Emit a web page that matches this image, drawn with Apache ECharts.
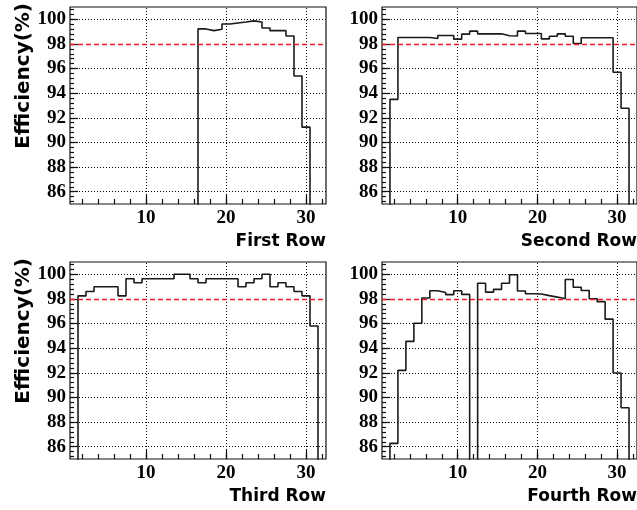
<!DOCTYPE html>
<html>
<head>
<meta charset="utf-8">
<script src="https://cdn.jsdelivr.net/npm/echarts@6/dist/echarts.min.js"></script>
<style>
  html, body { margin: 0; padding: 0; background: #fff; }
  #chart { width: 637px; height: 510px; }
</style>
</head>
<body>
<div id="chart"></div>
<script>
// Strip number (bin centre) and measured efficiency per strip, in percent.
// A value of 0 means the strip has no entry.
const bins = [1, 2, 3, 4, 5, 6, 7, 8, 9, 10, 11, 12, 13, 14, 15, 16,
              17, 18, 19, 20, 21, 22, 23, 24, 25, 26, 27, 28, 29, 30, 31, 32];

const firstRow = [0, 0, 0, 0, 0, 0, 0, 0, 0, 0, 0, 0, 0, 0, 0, 0,
                  99.22, 99.08, 99.19, 99.62, 99.70, 99.78, 99.87, 99.78,
                  99.30, 99.08, 99.08, 98.65, 95.39, 91.24, 0, 0];

const secondRow = [0, 93.50, 98.52, 98.52, 98.52, 98.52, 98.44, 98.69,
                   98.69, 98.39, 98.80, 99.04, 98.82, 98.82, 98.82, 98.66,
                   98.64, 99.04, 98.85, 98.85, 98.41, 98.63, 98.82, 98.63,
                   98.03, 98.50, 98.50, 98.50, 98.50, 95.70, 92.78, 0];

const thirdRow = [0, 98.25, 98.60, 98.99, 98.99, 98.99, 98.25, 99.64,
                  99.31, 99.64, 99.64, 99.64, 99.64, 100.0, 100.0, 99.64,
                  99.31, 99.64, 99.64, 99.64, 99.64, 98.99, 99.31, 99.64,
                  100.0, 98.99, 99.31, 98.99, 98.60, 98.25, 95.80, 0];

const fourthRow = [0, 86.27, 92.20, 94.55, 96.03, 98.08, 98.66, 98.53,
                   98.35, 98.66, 98.37, 0, 99.28, 98.55, 98.78, 99.28,
                   99.97, 98.64, 98.42, 98.40, 98.27, 98.15, 98.02, 99.58,
                   98.95, 98.68, 98.02, 97.78, 96.36, 91.99, 89.16, 0];

const rowValues = [firstRow, secondRow, thirdRow, fourthRow];
const rowNames = ['First Row', 'Second Row', 'Third Row', 'Fourth Row'];

const xTickLabels = [10, 20, 30];
const yTickLabels = [86, 88, 90, 92, 94, 96, 98, 100];
const threshold = 98;
const yAxisTitle = 'Efficiency(%)';

// Pad layout: frame rectangle of each pad.
const pads = [
  { left: 70,  top: 7,   width: 256, height: 197 },
  { left: 382, top: 7,   width: 255, height: 197 },
  { left: 70,  top: 262, width: 256, height: 197 },
  { left: 382, top: 262, width: 255, height: 197 }
];
const xMin = 0.5, xMax = 32.5;
const yMin = 85, yMax = 101;

// Secondary ticks: every 2 strips on x, every 0.4 % on y.
const xMinorTicks = [];
for (let v = 2; v <= 32; v += 2) xMinorTicks.push(v);
const yMinorTicks = [];
for (let k = 0; k <= 45; k++) {
  const v = Math.round((84.4 + 0.4 * k) * 10) / 10;
  if (v >= yMin && v <= yMax) yMinorTicks.push(v);
}

// Histogram outline: every bin contributes its low and high edge at its content.
function outline(values) {
  const pts = [];
  bins.forEach((b, i) => {
    pts.push([b - 0.5, values[i]]);
    pts.push([b + 0.5, values[i]]);
  });
  return pts;
}

const labelFont = { fontFamily: 'Liberation Serif', fontWeight: 'bold', fontSize: 19, color: '#000' };
const titleFont = 'bold 17px "DejaVu Sans"';

const grid = [], xAxis = [], yAxis = [], series = [], graphic = [];

pads.forEach((p, i) => {
  grid.push({
    left: p.left, top: p.top, width: p.width, height: p.height,
    show: true, borderColor: '#111', borderWidth: 1.2, backgroundColor: 'transparent'
  });

  // labelled x axis with primary ticks
  xAxis.push({
    type: 'value', gridIndex: i, min: xMin, max: xMax, position: 'bottom',
    axisLine: { show: false }, splitLine: { show: false },
    axisTick: { show: true, inside: true, length: 9, customValues: xTickLabels,
                lineStyle: { color: '#111', width: 1.2 } },
    axisLabel: Object.assign({ show: true, margin: 5, customValues: xTickLabels }, labelFont)
  });
  // secondary x ticks
  xAxis.push({
    type: 'value', gridIndex: i, min: xMin, max: xMax, position: 'bottom',
    axisLine: { show: false }, splitLine: { show: false }, axisLabel: { show: false },
    axisTick: { show: true, inside: true, length: 5, customValues: xMinorTicks,
                lineStyle: { color: '#111', width: 1.2 } }
  });

  yAxis.push({
    type: 'value', gridIndex: i, min: yMin, max: yMax, position: 'left',
    axisLine: { show: false }, splitLine: { show: false },
    axisTick: { show: true, inside: true, length: 8, customValues: yTickLabels,
                lineStyle: { color: '#111', width: 1.2 } },
    axisLabel: Object.assign({ show: true, margin: 4, customValues: yTickLabels }, labelFont)
  });
  yAxis.push({
    type: 'value', gridIndex: i, min: yMin, max: yMax, position: 'left',
    axisLine: { show: false }, splitLine: { show: false }, axisLabel: { show: false },
    axisTick: { show: true, inside: true, length: 4, customValues: yMinorTicks,
                lineStyle: { color: '#111', width: 1.2 } }
  });

  // dotted grid at the labelled values (the 98 % level carries the red line)
  series.push({
    type: 'line', xAxisIndex: 2 * i, yAxisIndex: 2 * i, data: [], silent: true,
    markLine: {
      silent: true, symbol: 'none', label: { show: false }, animation: false,
      lineStyle: { color: '#000', type: [1, 2], width: 1 },
      data: xTickLabels.map(v => ({ xAxis: v }))
        .concat(yTickLabels.filter(v => v !== threshold).map(v => ({ yAxis: v })))
    }
  });

  // efficiency histogram
  series.push({
    type: 'line', xAxisIndex: 2 * i, yAxisIndex: 2 * i,
    data: outline(rowValues[i]), showSymbol: false, symbol: 'none',
    clip: true, animation: false, silent: true, z: 3,
    lineStyle: { color: '#1a1a1a', width: 1.6 }
  });

  // 98 % reference line
  series.push({
    type: 'line', xAxisIndex: 2 * i, yAxisIndex: 2 * i, data: [], silent: true,
    markLine: {
      silent: true, symbol: 'none', label: { show: false }, animation: false,
      lineStyle: { color: '#ee1c24', type: [5, 3], width: 1.4 },
      data: [{ yAxis: threshold }]
    }
  });

  // x axis title, right aligned under the frame
  graphic.push({
    type: 'text', x: p.left + p.width, y: p.top + p.height + 38,
    style: { text: rowNames[i], font: titleFont, fill: '#000',
             textAlign: 'right', textVerticalAlign: 'middle' }
  });
});

// y axis titles on the left pads
[0, 2].forEach(i => {
  const p = pads[i];
  graphic.push({
    type: 'text', x: 24, y: p.top - 4, rotation: Math.PI / 2,
    style: { text: yAxisTitle, font: 'bold 20px "DejaVu Sans"', fill: '#000',
             textAlign: 'right', textVerticalAlign: 'middle' }
  });
});

const chart = echarts.init(document.getElementById('chart'), null, { renderer: 'canvas' });
chart.setOption({
  animation: false,
  backgroundColor: '#fff',
  grid, xAxis, yAxis, series, graphic
});
</script>
</body>
</html>
